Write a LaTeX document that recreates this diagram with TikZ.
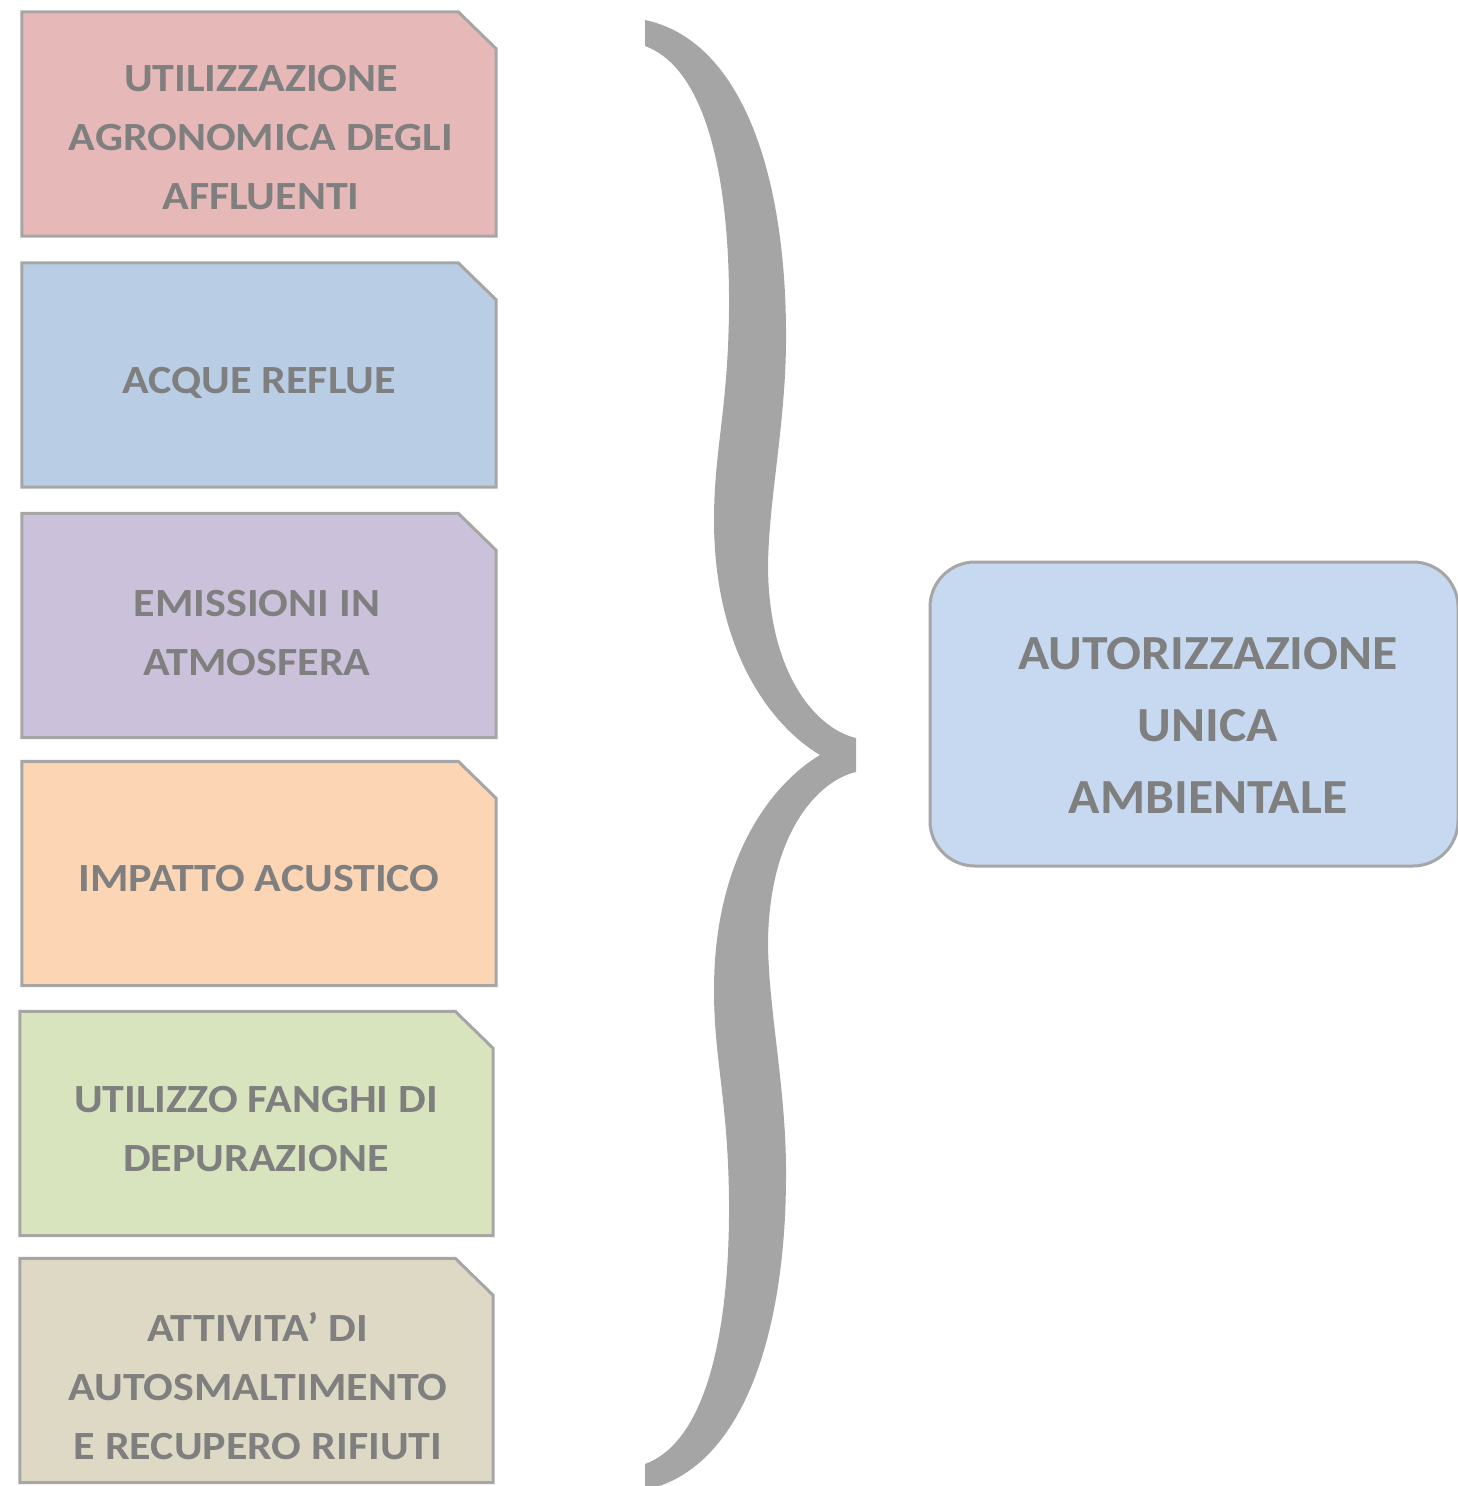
\documentclass[tikz,border=0pt]{standalone}
\usepackage{fontspec}
\setmainfont{Carlito}
\newfontfamily\lfont[FakeStretch=1.10]{Carlito}
\newfontfamily\rfont[FakeStretch=1.055]{Carlito}
\definecolor{cpink}{HTML}{E6B9B8}
\definecolor{cblue}{HTML}{B9CDE5}
\definecolor{cpurple}{HTML}{CCC1DA}
\definecolor{corange}{HTML}{FCD5B5}
\definecolor{cgreen}{HTML}{D7E4BD}
\definecolor{ctan}{HTML}{DDD9C4}
\definecolor{cright}{HTML}{C6D9F0}
\definecolor{cborder}{HTML}{A6A6A6}
\definecolor{cbrace}{HTML}{A5A5A5}
\definecolor{ctext}{HTML}{7F7F7F}
\tikzset{
  topicbox/.style={rectangle, minimum width=474pt, minimum height=224pt, inner sep=0pt},
  boxline/.style={draw=cborder, line width=3pt, line join=miter},
  lbl/.style={text=ctext, align=center, font={\lfont\bfseries\fontsize{40}{59}\selectfont}, inner sep=0pt},
  bigbox/.style={rectangle, rounded corners=45pt, draw=cborder, line width=3pt,
    fill=cright, minimum width=528pt, minimum height=304pt, inner sep=0pt},
  biglbl/.style={text=ctext, align=center, font={\rfont\bfseries\fontsize{49}{72}\selectfont}, inner sep=0pt}
}
\begin{document}
\begin{tikzpicture}[x=1pt,y=-1pt]
\useasboundingbox (0,0) rectangle (1457,1486);
% left boxes
\node[topicbox] (b1) at (259,124) {};
\node[topicbox] (b2) at (259,375) {};
\node[topicbox] (b3) at (259,625.5) {};
\node[topicbox] (b4) at (259,873.5) {};
\node[topicbox, minimum width=473pt] (b5) at (256.5,1123.5) {};
\node[topicbox, minimum width=473pt] (b6) at (256.5,1370.5) {};
\foreach \b/\c in {b1/cpink, b2/cblue, b3/cpurple, b4/corange, b5/cgreen, b6/ctan}{
  \filldraw[boxline, fill=\c] (\b.south west) -- (\b.north west)
    -- ([xshift=-38pt]\b.north east) -- ([yshift=-37pt]\b.north east)
    -- (\b.south east) -- cycle;
}
\node[lbl] (t1) at (261,138) {UTILIZZAZIONE\\AGRONOMICA DEGLI\\AFFLUENTI};
\node[lbl] (t2) at (259,383) {ACQUE REFLUE};
\node[lbl] (t3) at (257,633.5) {EMISSIONI IN\\ATMOSFERA};
\node[lbl] (t4) at (259,879) {IMPATTO ACUSTICO};
\node[lbl] (t5) at (256,1129.5) {UTILIZZO FANGHI DI\\DEPURAZIONE};
\node[lbl] (t6) at (258,1386) {ATTIVITA’ DI\\AUTOSMALTIMENTO\\E RECUPERO RIFIUTI};
% brace
\fill[cbrace] (645,20)
  .. controls (740,40) and (785,170) .. (786,330)
  .. controls (787,420) and (768,500) .. (768,570)
  .. controls (770,680) and (820,730) .. (856,738)
  -- (856,772)
  .. controls (820,780) and (770,830) .. (768,940)
  .. controls (768,1010) and (787,1090) .. (786,1180)
  .. controls (785,1340) and (740,1470) .. (645,1490)
  -- (645,1464)
  .. controls (710,1440) and (730,1320) .. (729,1200)
  .. controls (728,1100) and (714,1060) .. (714,990)
  .. controls (714,860) and (770,785) .. (820,755)
  .. controls (770,725) and (714,650) .. (714,520)
  .. controls (714,450) and (728,410) .. (729,310)
  .. controls (730,190) and (710,70) .. (645,46)
  -- cycle;
% right box
\node[bigbox] (ua) at (1194,714) {};
\node[biglbl] (uat) at (1208,725.5) {AUTORIZZAZIONE\\UNICA\\AMBIENTALE};
\end{tikzpicture}
\end{document}
